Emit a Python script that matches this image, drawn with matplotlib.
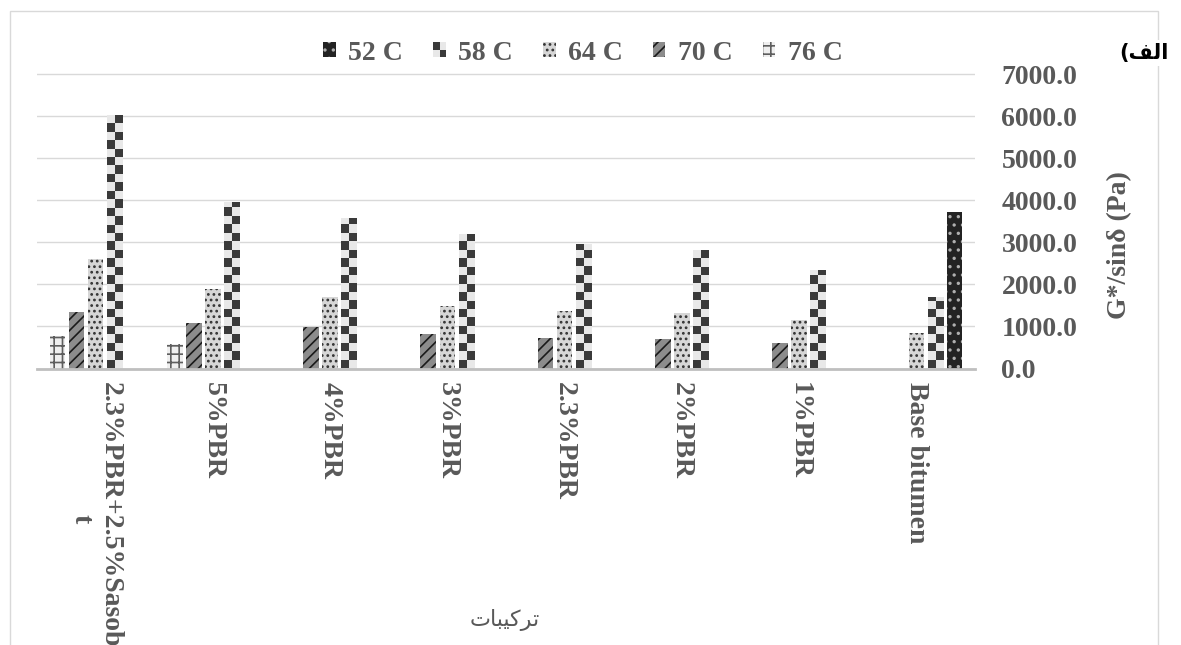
import numpy as np
import matplotlib
matplotlib.use('Agg')
import matplotlib.pyplot as plt
from matplotlib.colors import ListedColormap
from matplotlib.patches import Patch, Rectangle
from matplotlib.legend_handler import HandlerBase
from matplotlib.ticker import FormatStrFormatter

plt.rcParams['font.family'] = ['Liberation Serif', 'DejaVu Serif']
plt.rcParams['hatch.linewidth'] = 1.2

# binder blends (plotted on a reversed category axis)
blends = ['Base bitumen', '1%PBR', '2%PBR', '2.3%PBR', '3%PBR', '4%PBR',
          '5%PBR', '2.3%PBR+2.5%Sasobi\nt']
temps = ['52 C', '58 C', '64 C', '70 C', '76 C']

# G*/sin(delta) in Pa at each test temperature
g52 = [3730, 0, 0, 0, 0, 0, 0, 0]
g58 = [1710, 2345, 2815, 2955, 3200, 3570, 3950, 6020]
g64 = [840, 1150, 1315, 1365, 1475, 1690, 1890, 2600]
g70 = [0, 600, 695, 725, 825, 975, 1080, 1345]
g76 = [0, 0, 0, 0, 0, 0, 590, 770]
series = [g52, g58, g64, g70, g76]

txt = '#595959'
dark_chk, light_chk = '#3a3a3a', '#e8e8e8'
styles = [
    dict(facecolor='#232323', edgecolor='#b0b0b0', hatch='..'),
    dict(facecolor=light_chk, edgecolor='none'),
    dict(facecolor='#d6d6d6', edgecolor='#333333', hatch='...'),
    dict(facecolor='#8c8c8c', edgecolor='#1a1a1a', hatch='///'),
    dict(facecolor='#efefef', edgecolor='#5e5e5e', hatch='++'),
]

W, H = 1181, 645
fig = plt.figure(figsize=(W / 100, H / 100), dpi=100)

y0_px, px_per = 368.5, (368.5 - 74) / 7000
ytop = 7030
ax = fig.add_axes([37 / W, (H - y0_px) / H, (975 - 37) / W, ytop * px_per / H])

x = np.arange(len(blends))
slot, bw = 0.163, 0.134
containers = []
for k, vals in enumerate(series):
    bars = ax.bar(x + (k - 2) * slot, vals, bw, linewidth=0, zorder=2, **styles[k])
    containers.append(bars)

# checkerboard fill for the 58 C bars
check = 200
cmap = ListedColormap([light_chk, dark_chk])
for rect in containers[1]:
    h = rect.get_height()
    if h <= 0:
        continue
    x0, w = rect.get_x(), rect.get_width()
    nrows = int(np.ceil(h / check))
    cells = np.indices((nrows, 2)).sum(axis=0) % 2
    im = ax.imshow(cells, cmap=cmap, extent=(x0, x0 + w, 0, nrows * check),
                   origin='lower', aspect='auto', interpolation='nearest', zorder=2.5)
    im.set_clip_path(rect)

ax.set_xlim(len(blends) - 0.5, -0.5)
ax.set_ylim(0, ytop)
ax.set_yticks(np.arange(0, 7001, 1000))
ax.yaxis.set_major_formatter(FormatStrFormatter('%.1f'))
ax.yaxis.tick_right()
ax.set_axisbelow(True)
ax.grid(axis='y', color='#d9d9d9', linewidth=1.0)
for s in ['top', 'left', 'right']:
    ax.spines[s].set_visible(False)
ax.spines['bottom'].set_color('#bfbfbf')
ax.spines['bottom'].set_linewidth(2.0)
ax.tick_params(axis='y', length=0, pad=19, labelsize=20, labelcolor=txt)
ax.tick_params(axis='x', length=0, pad=10, labelsize=20, labelcolor=txt)
ax.set_xticks(x)
ax.set_xticklabels(blends, rotation=-90, fontweight='bold', multialignment='center')
for lab in ax.get_yticklabels():
    lab.set_fontweight('bold')

fig.text(1120 / W, 1 - 245 / H, 'G*/sinδ (Pa)', rotation=90, ha='center', va='center',
         fontsize=20, fontweight='bold', color=txt)

# x-axis title (pre-shaped Arabic glyphs, visual order)
fig.text(505 / W, 1 - 620 / H, '\ufe95\ufe8e\ufe92\ufef4\ufedb\ufeae\ufe97',
         family=['DejaVu Sans'], ha='center', va='center', fontsize=16, color=txt)

# panel tag
fig.text(1144 / W, 1 - 53 / H, '(\ufed2\ufedf\ufe8d', family=['DejaVu Sans'],
         fontweight='bold', ha='center', va='center', fontsize=15, color='black',
         bbox=dict(facecolor='white', edgecolor='none', pad=2))


class CheckerHandler(HandlerBase):
    def create_artists(self, legend, orig_handle, xdescent, ydescent,
                       width, height, fontsize, trans):
        x0, y0 = -xdescent, -ydescent
        base = Rectangle((x0, y0), width, height, facecolor=light_chk,
                         edgecolor='none', transform=trans)
        tl = Rectangle((x0, y0 + height / 2), width / 2, height / 2,
                       facecolor=dark_chk, edgecolor='none', transform=trans)
        br = Rectangle((x0 + width / 2, y0), width / 2, height / 2,
                       facecolor=dark_chk, edgecolor='none', transform=trans)
        return [base, tl, br]


handles = [Patch(linewidth=0, **st) for st in styles]
fig.legend(handles, temps, loc='center', bbox_to_anchor=(583 / W, 1 - 53 / H),
           ncol=5, frameon=False, handlelength=0.45, handleheight=0.45,
           handletextpad=0.45, columnspacing=1.08,
           prop=dict(size=20, weight='bold'), labelcolor=txt,
           handler_map={handles[1]: CheckerHandler()})

# outer chart frame
frame = Rectangle((10 / W, -0.05), 1148 / W, 1.05 - 11 / H, transform=fig.transFigure,
                  fill=False, edgecolor='#d9d9d9', linewidth=1.0, zorder=0)
fig.patches.append(frame)

fig.savefig('out.png', dpi=100)
